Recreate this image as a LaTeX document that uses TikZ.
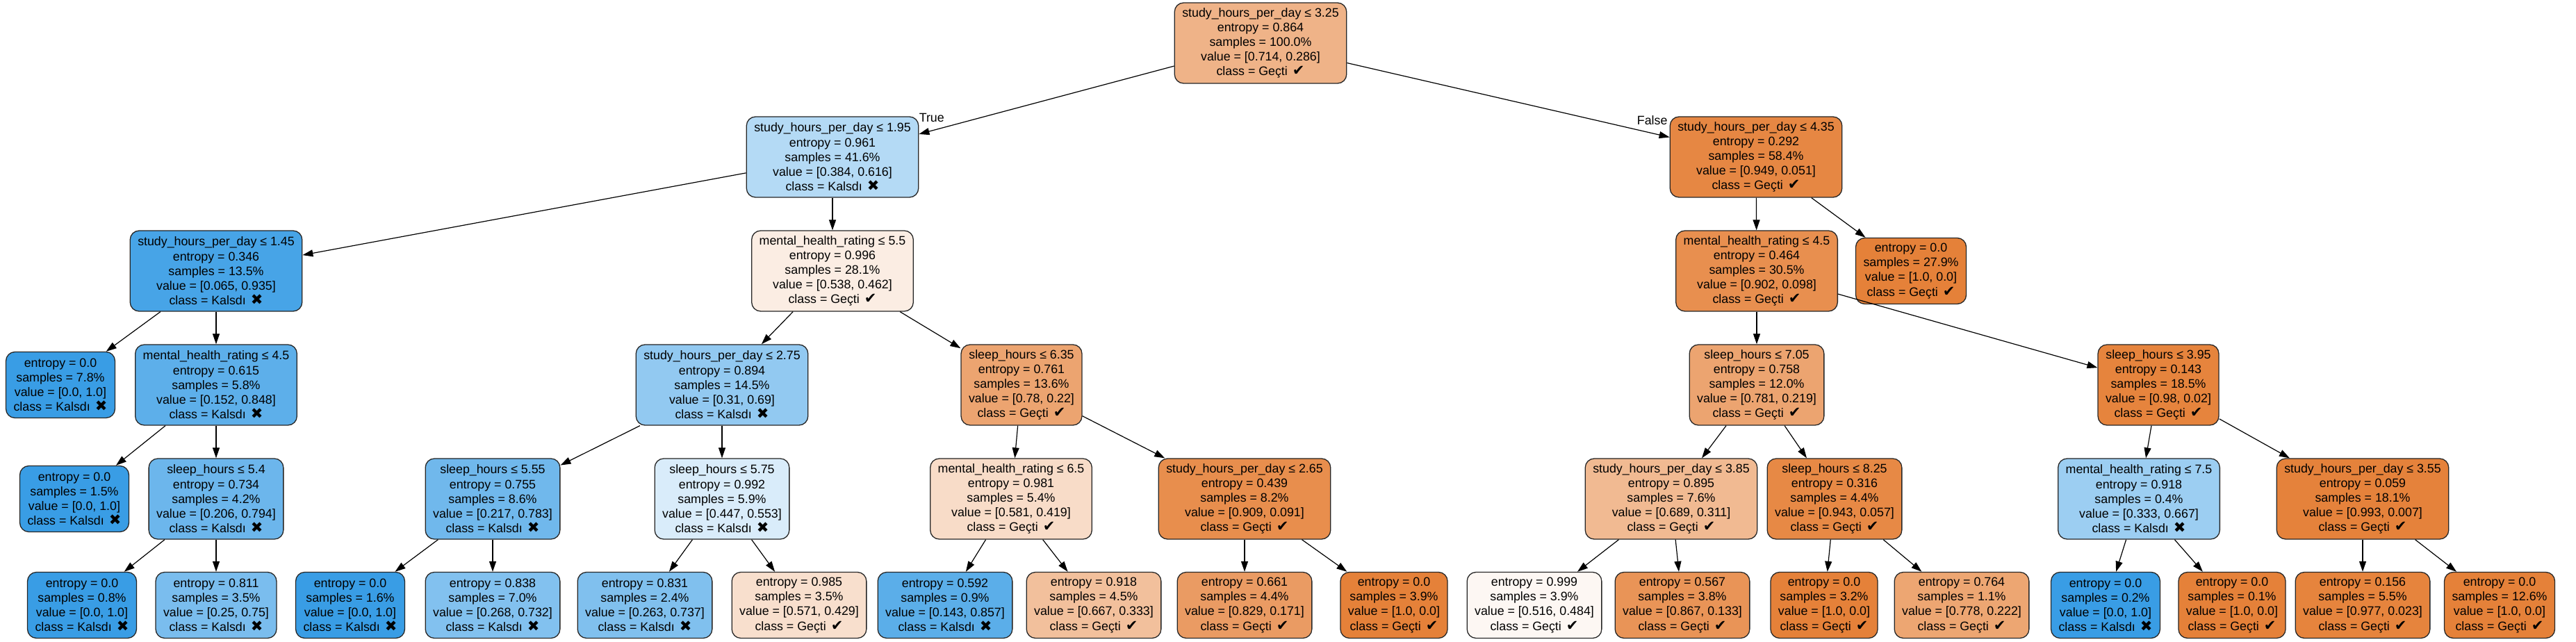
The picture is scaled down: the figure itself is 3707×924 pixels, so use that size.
\documentclass[tikz,border=0pt]{standalone}
\usepackage{fontspec}
\setmainfont{Liberation Sans}
\newfontfamily\markfont{DejaVu Sans}
\usepackage{xcolor}
\usepackage{tikz}
\usetikzlibrary{arrows.meta}

\definecolor{gecti}{RGB}{229,129,57}
\definecolor{kaldi}{RGB}{57,157,229}
\newcommand\okmark{\hspace{3.5pt}{\markfont\fontsize{10.5}{10}\selectfont ✔}}
\newcommand\nomark{\hspace{3.5pt}{\markfont\fontsize{10.5}{10}\selectfont ✖}}

\begin{document}
\begin{tikzpicture}[
  x=0.5pt, y=-0.5pt,
  tnode/.style={draw=black!85, line width=0.65pt, rounded corners=6.5pt, align=center,
                inner xsep=5.5pt, inner ysep=1pt, minimum height=58pt,
                font=\fontsize{8.9}{10.6}\selectfont},
  leaf/.style={tnode, minimum height=47.5pt},
  arr/.style={-{Triangle[length=7.5pt,width=5pt]}, line width=0.6pt},
  lbl/.style={font=\fontsize{8.9}{10.6}\selectfont, inner sep=1pt}
]
\useasboundingbox (0,0) rectangle (3707,924);

% depth 0-2
\node[tnode, fill=gecti!60!white] (root) at (1814,62) {study\_hours\_per\_day ≤ 3.25\\entropy = 0.864\\samples = 100.0\%\\value = [0.714, 0.286]\\class = Geçti\okmark};
\node[tnode, fill=kaldi!38!white] (s195) at (1198,226) {study\_hours\_per\_day ≤ 1.95\\entropy = 0.961\\samples = 41.6\%\\value = [0.384, 0.616]\\class = Kalsdı\nomark};
\node[tnode, fill=gecti!95!white] (s435) at (2527,226) {study\_hours\_per\_day ≤ 4.35\\entropy = 0.292\\samples = 58.4\%\\value = [0.949, 0.051]\\class = Geçti\okmark};
\node[tnode, fill=kaldi!93!white] (s145) at (311,390) {study\_hours\_per\_day ≤ 1.45\\entropy = 0.346\\samples = 13.5\%\\value = [0.065, 0.935]\\class = Kalsdı\nomark};
\node[tnode, fill=gecti!14!white] (m55) at (1198,390) {mental\_health\_rating ≤ 5.5\\entropy = 0.996\\samples = 28.1\%\\value = [0.538, 0.462]\\class = Geçti\okmark};
\node[tnode, fill=gecti!89!white] (m45b) at (2528,390) {mental\_health\_rating ≤ 4.5\\entropy = 0.464\\samples = 30.5\%\\value = [0.902, 0.098]\\class = Geçti\okmark};
\node[leaf, fill=gecti] (l279) at (2750,390) {entropy = 0.0\\samples = 27.9\%\\value = [1.0, 0.0]\\class = Geçti\okmark};

% depth 3
\node[leaf, fill=kaldi] (l78) at (87,554) {entropy = 0.0\\samples = 7.8\%\\value = [0.0, 1.0]\\class = Kalsdı\nomark};
\node[tnode, fill=kaldi!82!white] (m45a) at (311,554) {mental\_health\_rating ≤ 4.5\\entropy = 0.615\\samples = 5.8\%\\value = [0.152, 0.848]\\class = Kalsdı\nomark};
\node[tnode, fill=kaldi!55!white] (s275) at (1039,554) {study\_hours\_per\_day ≤ 2.75\\entropy = 0.894\\samples = 14.5\%\\value = [0.31, 0.69]\\class = Kalsdı\nomark};
\node[tnode, fill=gecti!72!white] (sl635) at (1470,554) {sleep\_hours ≤ 6.35\\entropy = 0.761\\samples = 13.6\%\\value = [0.78, 0.22]\\class = Geçti\okmark};
\node[tnode, fill=gecti!72!white] (sl705) at (2528,554) {sleep\_hours ≤ 7.05\\entropy = 0.758\\samples = 12.0\%\\value = [0.781, 0.219]\\class = Geçti\okmark};
\node[tnode, fill=gecti!98!white] (sl395) at (3106,554) {sleep\_hours ≤ 3.95\\entropy = 0.143\\samples = 18.5\%\\value = [0.98, 0.02]\\class = Geçti\okmark};

% depth 4
\node[leaf, fill=kaldi] (l15) at (107,718) {entropy = 0.0\\samples = 1.5\%\\value = [0.0, 1.0]\\class = Kalsdı\nomark};
\node[tnode, fill=kaldi!74!white] (sl54) at (311,718) {sleep\_hours ≤ 5.4\\entropy = 0.734\\samples = 4.2\%\\value = [0.206, 0.794]\\class = Kalsdı\nomark};
\node[tnode, fill=kaldi!72!white] (sl555) at (709,718) {sleep\_hours ≤ 5.55\\entropy = 0.755\\samples = 8.6\%\\value = [0.217, 0.783]\\class = Kalsdı\nomark};
\node[tnode, fill=kaldi!19!white] (sl575) at (1039,718) {sleep\_hours ≤ 5.75\\entropy = 0.992\\samples = 5.9\%\\value = [0.447, 0.553]\\class = Kalsdı\nomark};
\node[tnode, fill=gecti!28!white] (m65) at (1455,718) {mental\_health\_rating ≤ 6.5\\entropy = 0.981\\samples = 5.4\%\\value = [0.581, 0.419]\\class = Geçti\okmark};
\node[tnode, fill=gecti!90!white] (s265) at (1791,718) {study\_hours\_per\_day ≤ 2.65\\entropy = 0.439\\samples = 8.2\%\\value = [0.909, 0.091]\\class = Geçti\okmark};
\node[tnode, fill=gecti!55!white] (s385) at (2405,718) {study\_hours\_per\_day ≤ 3.85\\entropy = 0.895\\samples = 7.6\%\\value = [0.689, 0.311]\\class = Geçti\okmark};
\node[tnode, fill=gecti!94!white] (sl825) at (2640,718) {sleep\_hours ≤ 8.25\\entropy = 0.316\\samples = 4.4\%\\value = [0.943, 0.057]\\class = Geçti\okmark};
\node[tnode, fill=kaldi!50!white] (m75) at (3078,718) {mental\_health\_rating ≤ 7.5\\entropy = 0.918\\samples = 0.4\%\\value = [0.333, 0.667]\\class = Kalsdı\nomark};
\node[tnode, fill=gecti!99!white] (s355) at (3400,718) {study\_hours\_per\_day ≤ 3.55\\entropy = 0.059\\samples = 18.1\%\\value = [0.993, 0.007]\\class = Geçti\okmark};

% depth 5 (leaves)
\node[leaf, fill=kaldi] (l08) at (118,871) {entropy = 0.0\\samples = 0.8\%\\value = [0.0, 1.0]\\class = Kalsdı\nomark};
\node[leaf, fill=kaldi!67!white] (l35) at (311,871) {entropy = 0.811\\samples = 3.5\%\\value = [0.25, 0.75]\\class = Kalsdı\nomark};
\node[leaf, fill=kaldi] (l16) at (504,871) {entropy = 0.0\\samples = 1.6\%\\value = [0.0, 1.0]\\class = Kalsdı\nomark};
\node[leaf, fill=kaldi!63!white] (l70) at (709,871) {entropy = 0.838\\samples = 7.0\%\\value = [0.268, 0.732]\\class = Kalsdı\nomark};
\node[leaf, fill=kaldi!64!white] (l24) at (928,871) {entropy = 0.831\\samples = 2.4\%\\value = [0.263, 0.737]\\class = Kalsdı\nomark};
\node[leaf, fill=gecti!25!white] (l35b) at (1150,871) {entropy = 0.985\\samples = 3.5\%\\value = [0.571, 0.429]\\class = Geçti\okmark};
\node[leaf, fill=kaldi!83!white] (l09) at (1360,871) {entropy = 0.592\\samples = 0.9\%\\value = [0.143, 0.857]\\class = Kalsdı\nomark};
\node[leaf, fill=gecti!50!white] (l45) at (1574,871) {entropy = 0.918\\samples = 4.5\%\\value = [0.667, 0.333]\\class = Geçti\okmark};
\node[leaf, fill=gecti!79!white] (l44) at (1791,871) {entropy = 0.661\\samples = 4.4\%\\value = [0.829, 0.171]\\class = Geçti\okmark};
\node[leaf, fill=gecti] (l39) at (2006,871) {entropy = 0.0\\samples = 3.9\%\\value = [1.0, 0.0]\\class = Geçti\okmark};
\node[leaf, fill=gecti!6!white] (l39b) at (2208,871) {entropy = 0.999\\samples = 3.9\%\\value = [0.516, 0.484]\\class = Geçti\okmark};
\node[leaf, fill=gecti!85!white] (l38) at (2421,871) {entropy = 0.567\\samples = 3.8\%\\value = [0.867, 0.133]\\class = Geçti\okmark};
\node[leaf, fill=gecti] (l32) at (2625,871) {entropy = 0.0\\samples = 3.2\%\\value = [1.0, 0.0]\\class = Geçti\okmark};
\node[leaf, fill=gecti!71!white] (l11) at (2823,871) {entropy = 0.764\\samples = 1.1\%\\value = [0.778, 0.222]\\class = Geçti\okmark};
\node[leaf, fill=kaldi] (l02) at (3030,871) {entropy = 0.0\\samples = 0.2\%\\value = [0.0, 1.0]\\class = Kalsdı\nomark};
\node[leaf, fill=gecti] (l01) at (3212,871) {entropy = 0.0\\samples = 0.1\%\\value = [1.0, 0.0]\\class = Geçti\okmark};
\node[leaf, fill=gecti!98!white] (l55) at (3400,871) {entropy = 0.156\\samples = 5.5\%\\value = [0.977, 0.023]\\class = Geçti\okmark};
\node[leaf, fill=gecti] (l126) at (3597,871) {entropy = 0.0\\samples = 12.6\%\\value = [1.0, 0.0]\\class = Geçti\okmark};

% edges
\draw[arr] (root) -- node[lbl, pos=0.95, above, yshift=5pt] (ltrue) {True} (s195);
\draw[arr] (root) -- node[lbl, pos=0.955, above, yshift=5pt, xshift=-2pt] (lfalse) {False} (s435);
\foreach \a/\b in {s195/s145, s195/m55, s435/m45b, s435/l279,
                   s145/l78, s145/m45a, m55/s275, m55/sl635, m45b/sl705, m45b/sl395,
                   m45a/l15, m45a/sl54, s275/sl555, s275/sl575, sl635/m65, sl635/s265,
                   sl705/s385, sl705/sl825, sl395/m75, sl395/s355,
                   sl54/l08, sl54/l35, sl555/l16, sl555/l70, sl575/l24, sl575/l35b,
                   m65/l09, m65/l45, s265/l44, s265/l39, s385/l39b, s385/l38,
                   sl825/l32, sl825/l11, m75/l02, m75/l01, s355/l55, s355/l126}
  \draw[arr] (\a) -- (\b);
\end{tikzpicture}
\end{document}
